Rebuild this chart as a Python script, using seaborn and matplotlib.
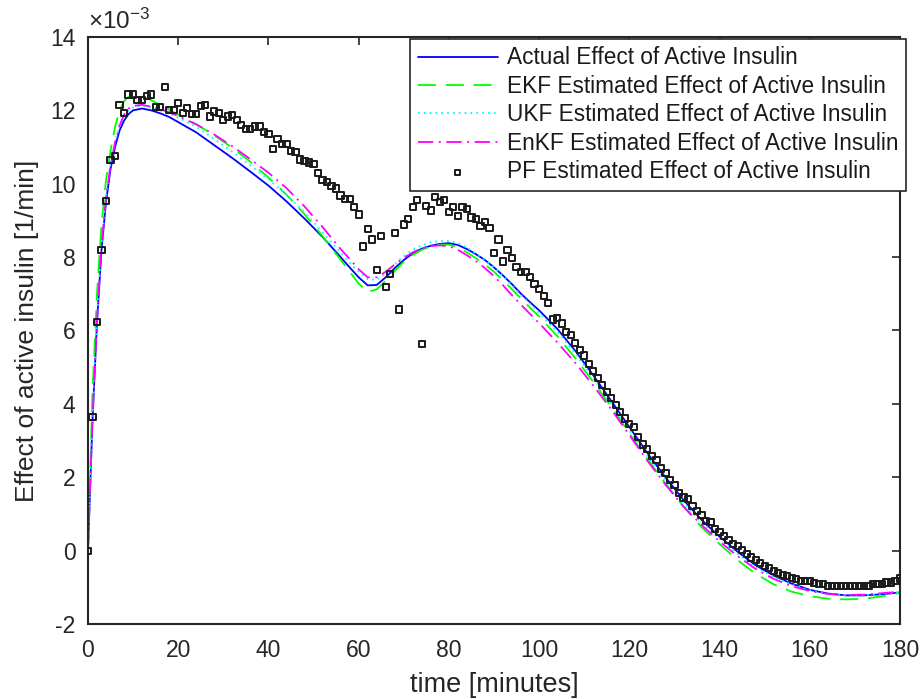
import numpy as np
import pandas as pd
import matplotlib
matplotlib.use("Agg")
import matplotlib.pyplot as plt
from matplotlib.ticker import FuncFormatter
import seaborn as sns

# Time grid (minutes) of the filter estimates
curve_time = [0, 1, 2, 3, 4, 5, 6, 7, 8, 9, 10,
              12, 14, 16, 18, 20,
              24, 28, 32, 36, 40, 44, 48, 52, 56,
              58, 60, 62, 64, 66, 68, 70, 72, 74, 76, 78, 80, 82, 84, 86, 88, 90,
              92, 94, 96, 98, 100,
              104, 108, 112, 116, 120, 124, 128, 132, 136, 140, 144, 148, 152,
              156, 160, 164, 168, 172, 176, 180]

# Effect of active insulin, in units of 1e-3 1/min
actual = [0.0, 3.55, 6.2, 8.2, 9.5, 10.4, 11.0, 11.45, 11.72, 11.9, 12.0,
          12.05, 12.0, 11.92, 11.82, 11.68,
          11.4, 11.05, 10.7, 10.33, 9.95, 9.52, 9.05, 8.55, 8.0,
          7.72, 7.45, 7.23, 7.24, 7.45, 7.7, 7.92, 8.1, 8.23, 8.31, 8.36, 8.38, 8.33, 8.22, 8.08, 7.92, 7.72,
          7.5, 7.26, 7.0, 6.77, 6.55,
          6.05, 5.45, 4.78, 4.08, 3.37, 2.66, 2.0, 1.38, 0.84, 0.38, -0.03, -0.4, -0.68,
          -0.9, -1.07, -1.17, -1.22, -1.22, -1.19, -1.14]

ekf = [0.0, 4.3, 7.0, 8.9, 10.1, 10.9, 11.55, 12.0, 12.25, 12.37, 12.4,
       12.38, 12.28, 12.15, 12.02, 11.88,
       11.62, 11.32, 10.98, 10.6, 10.17, 9.7, 9.17, 8.57, 7.93,
       7.6, 7.28, 7.05, 7.12, 7.35, 7.62, 7.87, 8.06, 8.2, 8.29, 8.34, 8.34, 8.27, 8.13, 7.97, 7.8, 7.6,
       7.37, 7.12, 6.87, 6.62, 6.38,
       5.85, 5.25, 4.6, 3.92, 3.2, 2.5, 1.83, 1.2, 0.64, 0.18, -0.26, -0.63, -0.92,
       -1.12, -1.24, -1.31, -1.33, -1.31, -1.25, -1.15]

ukf = [0.0, 3.65, 6.35, 8.35, 9.65, 10.55, 11.15, 11.58, 11.85, 12.0, 12.08,
       12.12, 12.08, 12.0, 11.92, 11.8,
       11.55, 11.22, 10.87, 10.5, 10.12, 9.7, 9.22, 8.68, 8.12,
       7.85, 7.6, 7.4, 7.38, 7.55, 7.8, 8.03, 8.2, 8.32, 8.4, 8.44, 8.44, 8.38, 8.26, 8.1, 7.93, 7.72,
       7.48, 7.22, 6.96, 6.72, 6.48,
       5.97, 5.38, 4.7, 4.0, 3.28, 2.58, 1.92, 1.3, 0.77, 0.32, -0.08, -0.45, -0.72,
       -0.93, -1.08, -1.18, -1.22, -1.22, -1.18, -1.13]

enkf = [0.0, 3.6, 6.3, 8.3, 9.6, 10.5, 11.12, 11.58, 11.88, 12.05, 12.12,
        12.15, 12.1, 12.03, 11.95, 11.84,
        11.62, 11.34, 11.02, 10.67, 10.3, 9.88, 9.38, 8.82, 8.22,
        7.95, 7.67, 7.45, 7.45, 7.6, 7.8, 7.98, 8.13, 8.24, 8.3, 8.32, 8.3, 8.2, 8.05, 7.89, 7.7, 7.48,
        7.23, 6.96, 6.7, 6.45, 6.2,
        5.68, 5.12, 4.5, 3.85, 3.15, 2.45, 1.8, 1.2, 0.7, 0.25, -0.15, -0.5, -0.77,
        -0.97, -1.1, -1.18, -1.21, -1.2, -1.16, -1.12]

# Particle filter estimate, one sample per minute (units of 1e-3 1/min)
pf_time = list(range(0, 181))
pf = [0.0, 3.64, 6.24, 8.2, 9.52, 10.65, 10.75, 12.15, 11.92, 12.43,
      12.43, 12.29, 12.29, 12.39, 12.43, 12.1, 12.1, 12.63, 12.01, 12.01,
      12.2, 11.92, 12.06, 11.89, 11.9, 12.12, 12.15, 11.83, 11.97, 11.92,
      11.74, 11.83, 11.88, 11.74, 11.61, 11.49, 11.49, 11.56, 11.56, 11.4,
      11.36, 10.94, 11.22, 11.09, 11.09, 10.9, 10.86, 10.66, 10.63, 10.58,
      10.54, 10.29, 10.11, 10.05, 9.93, 9.87, 9.68, 9.59, 9.59, 9.37,
      9.16, 8.29, 8.77, 8.48, 7.64, 8.57, 7.18, 7.54, 8.66, 6.57,
      8.89, 9.04, 9.36, 9.55, 5.64, 9.4, 9.27, 9.64, 9.5, 9.55,
      9.22, 9.36, 9.13, 9.36, 9.31, 9.08, 9.04, 8.84, 8.95, 8.8,
      8.11, 8.48, 7.88, 8.2, 7.97, 7.73, 7.6, 7.6, 7.45, 7.27,
      7.13, 6.93, 6.75, 6.3, 6.35, 6.19, 5.96, 5.87, 5.65, 5.46,
      5.32, 5.09, 4.89, 4.71, 4.52, 4.33, 4.15, 3.96, 3.78, 3.6,
      3.45, 3.37, 3.09, 2.89, 2.76, 2.57, 2.48, 2.24, 2.11, 1.92,
      1.79, 1.56, 1.45, 1.4, 1.22, 1.08, 0.98, 0.81, 0.77, 0.58,
      0.51, 0.39, 0.29, 0.18, 0.12, 0.02, -0.1, -0.19, -0.25, -0.34,
      -0.41, -0.48, -0.55, -0.62, -0.67, -0.7, -0.74, -0.78, -0.83, -0.83,
      -0.83, -0.89, -0.91, -0.91, -0.96, -0.96, -0.96, -0.96, -0.96, -0.96,
      -0.96, -0.96, -0.96, -0.96, -0.91, -0.91, -0.91, -0.87, -0.87, -0.82,
      -0.76]

labels = ["Actual Effect of Active Insulin",
          "EKF Estimated Effect of Active Insulin",
          "UKF Estimated Effect of Active Insulin",
          "EnKF Estimated Effect of Active Insulin",
          "PF Estimated Effect of Active Insulin"]

x_ticks = list(range(0, 181, 20))
y_ticks = list(range(-2, 15, 2))
unit = 1e-3

sns.set_theme(style="white")
plt.rcParams["font.family"] = ["Liberation Sans", "DejaVu Sans"]
plt.rcParams["mathtext.fontset"] = "custom"
plt.rcParams["mathtext.rm"] = "Liberation Sans"
plt.rcParams["mathtext.it"] = "Liberation Sans:italic"
plt.rcParams["axes.unicode_minus"] = False
plt.rcParams["lines.scale_dashes"] = False

dark = (0.15, 0.15, 0.15)

curves = pd.DataFrame({
    "time": curve_time,
    "actual": np.array(actual) * unit,
    "ekf": np.array(ekf) * unit,
    "ukf": np.array(ukf) * unit,
    "enkf": np.array(enkf) * unit,
})
pf_frame = pd.DataFrame({"time": pf_time, "pf": np.array(pf) * unit})

fig = plt.figure(figsize=(9.23, 6.99), dpi=100)
ax = fig.add_axes([0.0953, 0.1073, 0.8798, 0.8398])

sns.lineplot(data=curves, x="time", y="actual", ax=ax, color=(0, 0, 1),
             lw=1.3, label=labels[0])
sns.lineplot(data=curves, x="time", y="ekf", ax=ax, color=(0, 1, 0),
             lw=1.3, label=labels[1])
sns.lineplot(data=curves, x="time", y="ukf", ax=ax, color=(0, 1, 1),
             lw=1.4, label=labels[2])
sns.lineplot(data=curves, x="time", y="enkf", ax=ax, color=(1, 0, 1),
             lw=1.3, label=labels[3])
sns.scatterplot(data=pf_frame, x="time", y="pf", ax=ax, marker="s", s=20,
                facecolor="none", edgecolor="k", linewidth=1.4,
                label=labels[4], zorder=5)

# MATLAB-like line styles: solid, dashed, dotted, dash-dot
styles = ["-", (0, (13, 7)), (0, (1.2, 3)), (0, (11, 4, 1.4, 4))]
for line, ls in zip(ax.get_lines()[:4], styles):
    line.set_linestyle(ls)

ax.set_xlim(0, 180)
ax.set_ylim(-2 * unit, 14 * unit)
ax.set_xticks(x_ticks)
ax.set_yticks([v * unit for v in y_ticks])
ax.yaxis.set_major_formatter(FuncFormatter(lambda v, p: f"{v / unit:.0f}"))
ax.text(0.0, 1.006, r"$\times\mathregular{10^{-3}}$", transform=ax.transAxes,
        ha="left", va="bottom", fontsize=17.5, color=dark)

ax.tick_params(direction="in", length=6, width=1.2, color=dark,
               top=True, right=True, labelsize=16.5, labelcolor=dark)
ax.tick_params(axis="x", pad=11)
ax.tick_params(axis="y", pad=9)
for sp in ax.spines.values():
    sp.set_color(dark)
    sp.set_linewidth(1.5)

ax.set_xlabel("time [minutes]", fontsize=19.5, color=dark, labelpad=7)
ax.set_ylabel("Effect of active insulin [1/min]", fontsize=19, color=dark, labelpad=8)

handles, labs = ax.get_legend_handles_labels()
leg = ax.legend(handles, labs, loc="upper right", bbox_to_anchor=(1.007, 0.997),
                borderaxespad=0, fontsize=16.3, frameon=True, fancybox=False,
                shadow=False, handlelength=3.55, handletextpad=0.38,
                labelspacing=0.24, borderpad=0.34, markerscale=0.8)
leg.get_frame().set_edgecolor(dark)
leg.get_frame().set_linewidth(1.2)
leg.get_frame().set_alpha(1)
for t in leg.get_texts():
    t.set_color("k")

fig.savefig("out.png", dpi=100, facecolor="white")
